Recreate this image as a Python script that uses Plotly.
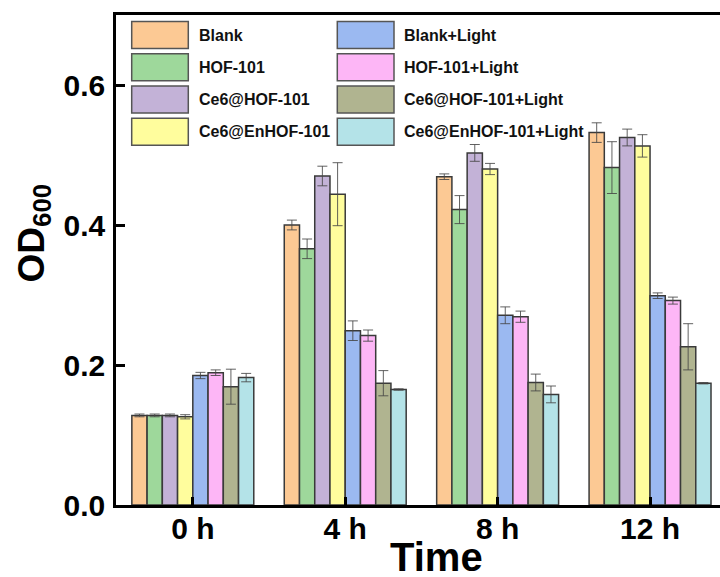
import plotly.graph_objects as go

# Sampling times and bacterial growth (OD600) per treatment group
times = ["0 h", "4 h", "8 h", "12 h"]
series_names = [
    "Blank", "HOF-101", "Ce6@HOF-101", "Ce6@EnHOF-101",
    "Blank+Light", "HOF-101+Light", "Ce6@HOF-101+Light", "Ce6@EnHOF-101+Light",
]
blank = [0.128, 0.400, 0.469, 0.532]
hof = [0.128, 0.366, 0.422, 0.482]
ce6_hof = [0.128, 0.470, 0.503, 0.525]
ce6_enhof = [0.126, 0.444, 0.480, 0.513]
blank_light = [0.185, 0.249, 0.271, 0.299]
hof_light = [0.189, 0.242, 0.269, 0.292]
ce6_hof_light = [0.169, 0.174, 0.175, 0.226]
ce6_enhof_light = [0.182, 0.165, 0.158, 0.174]

blank_err = [0.002, 0.007, 0.004, 0.014]
hof_err = [0.002, 0.014, 0.020, 0.037]
ce6_hof_err = [0.002, 0.014, 0.012, 0.012]
ce6_enhof_err = [0.003, 0.045, 0.008, 0.016]
blank_light_err = [0.0045, 0.014, 0.012, 0.004]
hof_light_err = [0.004, 0.008, 0.008, 0.005]
ce6_hof_light_err = [0.025, 0.018, 0.012, 0.033]
ce6_enhof_light_err = [0.006, 0.001, 0.012, 0.001]

values = [blank, hof, ce6_hof, ce6_enhof, blank_light, hof_light, ce6_hof_light, ce6_enhof_light]
errors = [blank_err, hof_err, ce6_hof_err, ce6_enhof_err,
          blank_light_err, hof_light_err, ce6_hof_light_err, ce6_enhof_light_err]
colors = ["#FCC994", "#9ED89B", "#C3B2D7", "#FFFD9D",
          "#9BB9F1", "#FDB6F6", "#B0B490", "#B4E3E8"]

FONT = "Liberation Sans, Arial, sans-serif"

# Pixel frame of the plotting area
W, H = 720, 577
L, R, T, B = 116, 0, 15, 72
PW, PH = W - L - R, H - T - B


def px(x):
    return (x - L) / PW


def py(y):
    return (H - B - y) / PH


fig = go.Figure()
xpos = list(range(len(times)))
for name, vals, errs, col in zip(series_names, values, errors, colors):
    fig.add_trace(go.Bar(
        x=xpos, y=vals, name=name,
        marker=dict(color=col, line=dict(color="#3a3a3a", width=1.5)),
        error_y=dict(type="data", array=errs, visible=True,
                     color="rgba(70,70,70,0.85)", thickness=1, width=5),
        showlegend=False,
    ))

# Hand-built legend with large swatches, two columns of four
shapes = []
annotations = []
col_x = [(131.7, 188.3, 196.7), (337.3, 394.0, 401.7)]
row_y = [35.0, 67.2, 99.5, 131.7]
for i, (name, col) in enumerate(zip(series_names, colors)):
    c, r = divmod(i, 4)
    x0, x1, tx = col_x[c]
    yc = row_y[r]
    shapes.append(dict(type="rect", xref="paper", yref="paper",
                       x0=px(x0), x1=px(x1), y0=py(yc + 13.5), y1=py(yc - 13.5),
                       fillcolor=col, line=dict(color="#555555", width=1.5)))
    annotations.append(dict(text=name, xref="paper", yref="paper",
                            x=px(tx), y=py(yc), xanchor="left", yanchor="middle",
                            showarrow=False,
                            font=dict(family=FONT, size=16, color="#111111", weight="bold")))

# Axis titles
annotations.append(dict(text="OD<sub>600</sub>", xref="paper", yref="paper",
                        x=px(33), y=py(233.5), textangle=-90,
                        xanchor="center", yanchor="middle", showarrow=False,
                        font=dict(family=FONT, size=37, color="#000000", weight="bold")))
annotations.append(dict(text="Time", xref="paper", yref="paper",
                        x=px(436.5), y=py(557), xanchor="center", yanchor="middle",
                        showarrow=False,
                        font=dict(family=FONT, size=40, color="#000000", weight="bold")))

fig.update_layout(
    width=W, height=H,
    margin=dict(l=L, r=R, t=T, b=B, pad=0),
    paper_bgcolor="white", plot_bgcolor="white",
    barmode="group", bargap=0.2, bargroupgap=0,
    shapes=shapes, annotations=annotations,
    showlegend=False,
    xaxis=dict(
        range=[-0.504, 3.459], tickvals=xpos, ticktext=times,
        showline=True, linecolor="black", linewidth=2.5, mirror=True,
        ticks="inside", ticklen=8, tickwidth=2.5, tickcolor="black",
        showgrid=False, zeroline=False, ticklabelstandoff=-5,
        tickfont=dict(family=FONT, size=30, color="#000000", weight="bold"),
    ),
    yaxis=dict(
        range=[0, 0.7], tickvals=[0, 0.2, 0.4, 0.6], tickformat=".1f",
        showline=True, linecolor="black", linewidth=2.5, mirror=False,
        ticks="inside", ticklen=9, tickwidth=2.5, tickcolor="black",
        showgrid=False, zeroline=False, ticklabelstandoff=2,
        tickfont=dict(family=FONT, size=30, color="#000000", weight="bold"),
    ),
)

fig.write_html("out.html")
